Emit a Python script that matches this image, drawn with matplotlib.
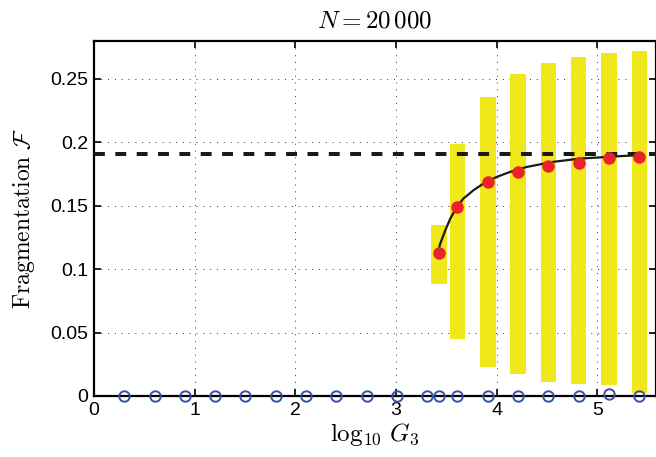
import matplotlib
matplotlib.use('Agg')
import matplotlib.pyplot as plt

plt.rcParams['mathtext.fontset'] = 'cm'
plt.rcParams['font.family'] = ['Liberation Sans', 'DejaVu Sans']

# log10 G3 of every run, fragmentation found (all ~0)
log_g_all = [0.301, 0.602, 0.903, 1.204, 1.505, 1.806, 2.107, 2.408, 2.709,
             3.010, 3.311, 3.43, 3.612, 3.913, 4.214, 4.515, 4.816, 5.118, 5.419]
frag_all = [0, 0, 0, 0, 0, 0, 0, 0, 0, 0, 0, 0, 0, 0, 0, 0, 0, 0.0015, 0]

# runs with non-zero fragmentation: mean and spread
log_g = [3.43, 3.612, 3.913, 4.214, 4.515, 4.816, 5.118, 5.419]
frag_mean = [0.113, 0.149, 0.1686, 0.1764, 0.1815, 0.1837, 0.188, 0.1886]
frag_low = [0.088, 0.045, 0.023, 0.0174, 0.011, 0.0095, 0.0087, 0.0024]
frag_high = [0.135, 0.1986, 0.236, 0.254, 0.2627, 0.267, 0.2706, 0.272]

# fitted curve
fit_x = [3.406, 3.44, 3.49, 3.54, 3.605, 3.67, 3.77, 3.87, 4.00, 4.135,
         4.30, 4.56, 4.83, 5.0, 5.2, 5.41]
fit_y = [0.1094, 0.120, 0.1305, 0.1398, 0.149, 0.1556, 0.1622, 0.1675, 0.1727,
         0.1767, 0.1806, 0.1846, 0.1872, 0.188, 0.189, 0.1899]

asymptote = 0.1905

fig = plt.figure(figsize=(6.56, 4.57), dpi=100)
ax = fig.add_axes([0.1433, 0.1335, 0.856, 0.777])

heights = [h - l for h, l in zip(frag_high, frag_low)]
ax.bar(log_g, heights, bottom=frag_low, width=0.155, color='#f0e81a',
       edgecolor='none', zorder=2)
ax.axhline(asymptote, color='#1a1a1a', lw=2.9, dashes=(2.7, 2.6), zorder=3)
ax.plot(fit_x, fit_y, color='#1a1a1a', lw=1.6, zorder=4)
ax.plot(log_g, frag_mean, 'o', color='#e8232b', ms=9, mec='none', zorder=5)
ax.plot(log_g_all, frag_all, 'o', mfc='none', mec='#3451a8', ms=7.5, mew=1.4,
        zorder=6, clip_on=False)

ax.set_xlim(0, 5.58)
ax.set_ylim(0, 0.28)
ax.set_xticks([0, 1, 2, 3, 4, 5])
ax.set_yticks([0, 0.05, 0.1, 0.15, 0.2, 0.25])
ax.set_yticklabels(['0', '0.05', '0.1', '0.15', '0.2', '0.25'])
ax.tick_params(direction='in', length=5, width=1.2, labelsize=14,
               top=True, right=True, pad=4)
for s in ax.spines.values():
    s.set_linewidth(1.6)
ax.grid(True, color='#333333', linestyle=(0, (1, 6)), linewidth=0.7)
ax.set_axisbelow(True)

ax.set_title(r'$N = 20\,000$', fontsize=18, pad=10)
ax.set_xlabel(r'$\log_{10}\,G_3$', fontsize=18, labelpad=2)
ax.set_ylabel(r'$\mathrm{Fragmentation}\ \mathcal{F}$', fontsize=17, labelpad=10)

fig.savefig('out.png', dpi=100)
